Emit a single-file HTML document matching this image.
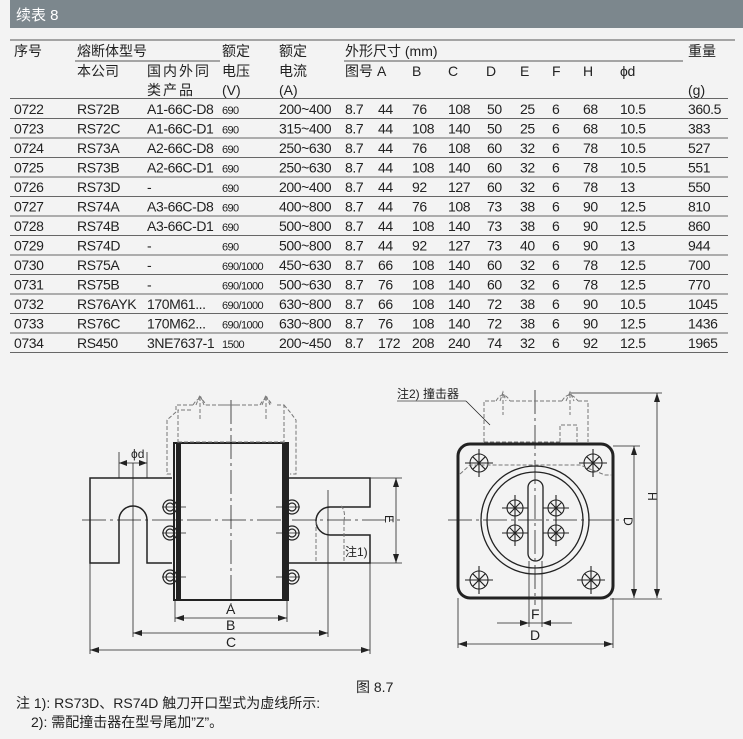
<!DOCTYPE html>
<html><head><meta charset="utf-8"><style>
html,body{margin:0;padding:0;background:#f3f3f3;}
svg{display:block}
.t{font-family:"Liberation Sans","Noto Sans CJK SC",sans-serif;font-size:14px;letter-spacing:-0.4px;fill:#222}
.s{font-size:11px;letter-spacing:-0.6px}
.c{font-family:"Liberation Sans","Noto Sans CJK SC",sans-serif;font-size:14px;fill:#222}
.l{font-family:"Liberation Sans",sans-serif;font-size:12px;fill:#222}
</style></head><body>
<svg width="743" height="739" viewBox="0 0 743 739" xmlns="http://www.w3.org/2000/svg">
<rect x="0" y="0" width="743" height="739" fill="#f3f3f3"/>
<rect x="10" y="0" width="733" height="28" fill="#7c878d"/>
<text x="16" y="20" class="c" style="fill:#fff;font-size:15px">续表 8</text>
<g stroke="#555" stroke-width="1">
<line x1="10" y1="40" x2="735" y2="40"/>
<line x1="75" y1="61" x2="220" y2="61"/>
<line x1="344" y1="61" x2="683" y2="61"/>
</g>
<g class="c">
<text x="14" y="56">序号</text><text x="77" y="56">熔断体型号</text><text x="222" y="56">额定</text><text x="279" y="56">额定</text><text x="345" y="56">外形尺寸 (mm)</text><text x="688" y="56">重量</text>
<text x="77" y="76">本公司</text><text x="147" y="76" letter-spacing="2">国内外同</text><text x="222" y="76">电压</text><text x="279" y="76">电流</text><text x="345" y="76">图号</text>
<text x="147" y="95" letter-spacing="2">类产品</text><text x="222" y="95">(V)</text><text x="279" y="95">(A)</text><text x="688" y="95">(g)</text>
</g>
<g class="t">
<text x="377" y="76">A</text><text x="412" y="76">B</text><text x="448" y="76">C</text><text x="486" y="76">D</text><text x="520" y="76">E</text><text x="552" y="76">F</text><text x="583" y="76">H</text><text x="620" y="76">ϕd</text>
</g>
<g stroke="#666" stroke-width="1" id="rl"></g>
<g class="t" id="rows"></g>
<script>
var d=[["0722","RS72B","A1-66C-D8","690","200~400","8.7","44","76","108","50","25","6","68","10.5","360.5"],
["0723","RS72C","A1-66C-D1","690","315~400","8.7","44","108","140","50","25","6","68","10.5","383"],
["0724","RS73A","A2-66C-D8","690","250~630","8.7","44","76","108","60","32","6","78","10.5","527"],
["0725","RS73B","A2-66C-D1","690","250~630","8.7","44","108","140","60","32","6","78","10.5","551"],
["0726","RS73D","-","690","200~400","8.7","44","92","127","60","32","6","78","13","550"],
["0727","RS74A","A3-66C-D8","690","400~800","8.7","44","76","108","73","38","6","90","12.5","810"],
["0728","RS74B","A3-66C-D1","690","500~800","8.7","44","108","140","73","38","6","90","12.5","860"],
["0729","RS74D","-","690","500~800","8.7","44","92","127","73","40","6","90","13","944"],
["0730","RS75A","-","690/1000","450~630","8.7","66","108","140","60","32","6","78","12.5","700"],
["0731","RS75B","-","690/1000","500~630","8.7","76","108","140","60","32","6","78","12.5","770"],
["0732","RS76AYK","170M61...","690/1000","630~800","8.7","66","108","140","72","38","6","90","10.5","1045"],
["0733","RS76C","170M62...","690/1000","630~800","8.7","76","108","140","72","38","6","90","12.5","1436"],
["0734","RS450","3NE7637-1","1500","200~450","8.7","172","208","240","74","32","6","92","12.5","1965"]];
var xs=[14,77,147,222,279,345,378,412,448,487,520,552,583,620,688];
var ns="http://www.w3.org/2000/svg",g=document.getElementById("rows"),rl=document.getElementById("rl");
function ln(y){var l=document.createElementNS(ns,"line");l.setAttribute("x1",10);l.setAttribute("x2",728);l.setAttribute("y1",y);l.setAttribute("y2",y);rl.appendChild(l);}
ln(98.5);
d.forEach(function(r,i){var y=114+19.5*i;r.forEach(function(v,j){var t=document.createElementNS(ns,"text");t.setAttribute("x",xs[j]);t.setAttribute("y",y);t.textContent=v;if(j==3){t.setAttribute("class","s");}g.appendChild(t);});ln(y+4.5);});
</script>

<!-- left drawing -->
<g fill="none" stroke="#222" stroke-width="1.5">
<path d="M172,478 H90 V563 H119 V520 A14,14 0 0 1 147,520 V563 H172"/>
<path d="M288,478 H370 V507 H330 A14,14 0 0 0 330,535 H370 V563 H288"/>
<rect x="174" y="443" width="114" height="157" stroke-width="2"/>
</g>
<rect x="176" y="443" width="5" height="157" fill="#222"/>
<rect x="282" y="443" width="5" height="157" fill="#222"/>
<g fill="none" stroke="#222" stroke-width="1.2">
<circle cx="170" cy="507" r="7"/><circle cx="170" cy="507" r="4"/>
<circle cx="170" cy="533" r="7"/><circle cx="170" cy="533" r="4"/>
<circle cx="170" cy="577" r="7"/><circle cx="170" cy="577" r="4"/>
<circle cx="292" cy="507" r="7"/><circle cx="292" cy="507" r="4"/>
<circle cx="292" cy="533" r="7"/><circle cx="292" cy="533" r="4"/>
<circle cx="292" cy="577" r="7"/><circle cx="292" cy="577" r="4"/>
</g>
<g stroke="#222" stroke-width="0.8" fill="none">
<line x1="82" y1="520" x2="400" y2="520" stroke-dasharray="24,4,3,4"/>
<line x1="231" y1="400" x2="231" y2="605" stroke-dasharray="24,4,3,4"/>
<line x1="162" y1="507" x2="186" y2="507"/><line x1="162" y1="533" x2="186" y2="533"/><line x1="162" y1="577" x2="186" y2="577"/>
<line x1="276" y1="507" x2="300" y2="507"/><line x1="276" y1="533" x2="300" y2="533"/><line x1="276" y1="577" x2="300" y2="577"/>
<line x1="133" y1="463" x2="133" y2="520"/>
<line x1="119" y1="452" x2="119" y2="478"/><line x1="147" y1="452" x2="147" y2="478"/>
<line x1="119" y1="463" x2="147" y2="463"/>
<line x1="175" y1="600" x2="175" y2="622"/><line x1="287" y1="600" x2="287" y2="622"/>
<line x1="175" y1="618" x2="287" y2="618"/>
<line x1="133" y1="520" x2="133" y2="637"/><line x1="328" y1="490" x2="328" y2="637"/>
<line x1="133" y1="633" x2="328" y2="633"/>
<line x1="90" y1="563" x2="90" y2="654"/><line x1="370" y1="563" x2="370" y2="654"/>
<line x1="90" y1="650" x2="370" y2="650"/>
<line x1="370" y1="478" x2="402" y2="478"/><line x1="370" y1="563" x2="402" y2="563"/>
<line x1="396" y1="478" x2="396" y2="563"/>
</g>
<g fill="#222">
<path d="M119,463 l8,-3 v6z"/><path d="M147,463 l-8,-3 v6z"/>
<path d="M175,618 l9,-3 v6z"/><path d="M287,618 l-9,-3 v6z"/>
<path d="M133,633 l9,-3 v6z"/><path d="M328,633 l-9,-3 v6z"/>
<path d="M90,650 l9,-3 v6z"/><path d="M370,650 l-9,-3 v6z"/>
<path d="M396,478 l-3,9 h6z"/><path d="M396,563 l-3,-9 h6z"/>
</g>
<g fill="none" stroke="#777" stroke-width="1" stroke-dasharray="4,2">
<path d="M178,443 V410 H193 M222,405 H240 M277,405 H284 V443"/>
<path d="M193,405 H176 V412 L167,420 V474 H172"/>
<path d="M284,405 L290,412 L296,420 V474 H290"/>
<path d="M178,442 H284"/>
<path d="M193,405 Q200,393 206,405 M196,405 L200,395 L204,405 M200,397 V420"/>
<path d="M260,405 Q266,393 272,405 M262,405 L266,395 L270,405 M266,397 V420"/>
<path d="M206,405 H260"/>
<path d="M316,521 V563 M344,521 Q346,510 340,505 M344,521 V563"/>
</g>
<text x="131" y="458" class="l">ϕd</text>
<text x="226" y="614" class="c">A</text>
<text x="226" y="630" class="c">B</text>
<text x="226" y="647" class="c">C</text>
<text x="345" y="556" class="l">注1)</text>
<text x="380" y="520" class="l" transform="rotate(90 385 520)">E</text>

<!-- right drawing -->
<rect x="458" y="444" width="155" height="154" rx="12" fill="none" stroke="#222" stroke-width="3"/>
<g fill="none" stroke="#222" stroke-width="1.3">
<circle cx="535" cy="520" r="54"/><circle cx="535" cy="520" r="48"/>
<rect x="528" y="480" width="15" height="81" rx="7.5"/>
</g>
<g fill="none" stroke="#222" stroke-width="1.1">
<circle cx="479" cy="463" r="9"/><path d="M472.7,456.7 L485.3,469.3 M485.3,456.7 L472.7,469.3 M465,463 H493 M479,449 V477"/>
<circle cx="593" cy="463" r="9"/><path d="M586.7,456.7 L599.3,469.3 M599.3,456.7 L586.7,469.3 M579,463 H607 M593,449 V477"/>
<circle cx="479" cy="580" r="9"/><path d="M472.7,573.7 L485.3,586.3 M485.3,573.7 L472.7,586.3 M465,580 H493 M479,566 V594"/>
<circle cx="591" cy="580" r="9"/><path d="M584.7,573.7 L597.3,586.3 M597.3,573.7 L584.7,586.3 M577,580 H605 M591,566 V594"/>
<circle cx="515" cy="508" r="8"/><path d="M509.4,502.4 L520.6,513.6 M520.6,502.4 L509.4,513.6 M502,508 H528 M515,495 V521"/>
<circle cx="556" cy="508" r="8"/><path d="M550.4,502.4 L561.6,513.6 M561.6,502.4 L550.4,513.6 M543,508 H569 M556,495 V521"/>
<circle cx="515" cy="533" r="8"/><path d="M509.4,527.4 L520.6,538.6 M520.6,527.4 L509.4,538.6 M502,533 H528 M515,520 V546"/>
<circle cx="556" cy="533" r="8"/><path d="M550.4,527.4 L561.6,538.6 M561.6,527.4 L550.4,538.6 M543,533 H569 M556,520 V546"/>
</g>
<g stroke="#222" stroke-width="0.8" fill="none">
<line x1="448" y1="520" x2="625" y2="520" stroke-dasharray="24,4,3,4"/>
<line x1="535" y1="390" x2="535" y2="605" stroke-dasharray="24,4,3,4"/>
<line x1="529" y1="561" x2="529" y2="627"/><line x1="542" y1="561" x2="542" y2="627"/>
<line x1="497" y1="623" x2="572" y2="623"/>
<line x1="458" y1="598" x2="458" y2="648"/><line x1="613" y1="598" x2="613" y2="648"/>
<line x1="458" y1="644" x2="613" y2="644"/>
<line x1="613" y1="446" x2="640" y2="446"/><line x1="610" y1="599" x2="662" y2="599"/>
<line x1="634" y1="446" x2="634" y2="598"/>
<line x1="570" y1="393" x2="662" y2="393"/>
<line x1="657" y1="393" x2="657" y2="598"/>
<line x1="397" y1="401" x2="466" y2="401" stroke="#999" stroke-width="1.5"/>
<line x1="466" y1="401" x2="490" y2="425"/>
</g>
<g fill="#222">
<path d="M529,623 l-9,-3 v6z"/><path d="M542,623 l9,-3 v6z"/>
<path d="M458,644 l9,-3 v6z"/><path d="M613,644 l-9,-3 v6z"/>
<path d="M634,446 l-3,9 h6z"/><path d="M634,598 l-3,-9 h6z"/>
<path d="M657,393 l-3,9 h6z"/><path d="M657,598 l-3,-9 h6z"/>
</g>
<g fill="none" stroke="#777" stroke-width="1" stroke-dasharray="4,2">
<path d="M484,442 V401 H496 M510,401 H562 M578,401 H588 V442"/>
<path d="M484,442 H560"/>
<path d="M560,442 V425 H577 V442"/>
<path d="M460,474 L470,465 H580 L605,475 H612"/>
<path d="M496,401 Q503,389 510,401 M500,401 L503,392 L506,401 M503,394 V415"/>
<path d="M562,401 Q569,389 578,401 M566,401 L570,392 L574,401 M570,394 V415"/>
</g>
<text x="397" y="398" class="l">注2) 撞击器</text>
<text x="531" y="619" class="c">F</text>
<text x="530" y="640" class="c">D</text>
<text x="619" y="522" class="l" transform="rotate(90 624 522)">D</text>
<text x="643" y="497" class="l" transform="rotate(90 648 497)">H</text>

<text x="356" y="692" class="c">图 8.7</text>
<text x="16" y="708" class="c">注 1): RS73D、RS74D 触刀开口型式为虚线所示:</text>
<text x="31" y="727" class="c">2): 需配撞击器在型号尾加”Z”。</text>
</svg>
</body></html>
